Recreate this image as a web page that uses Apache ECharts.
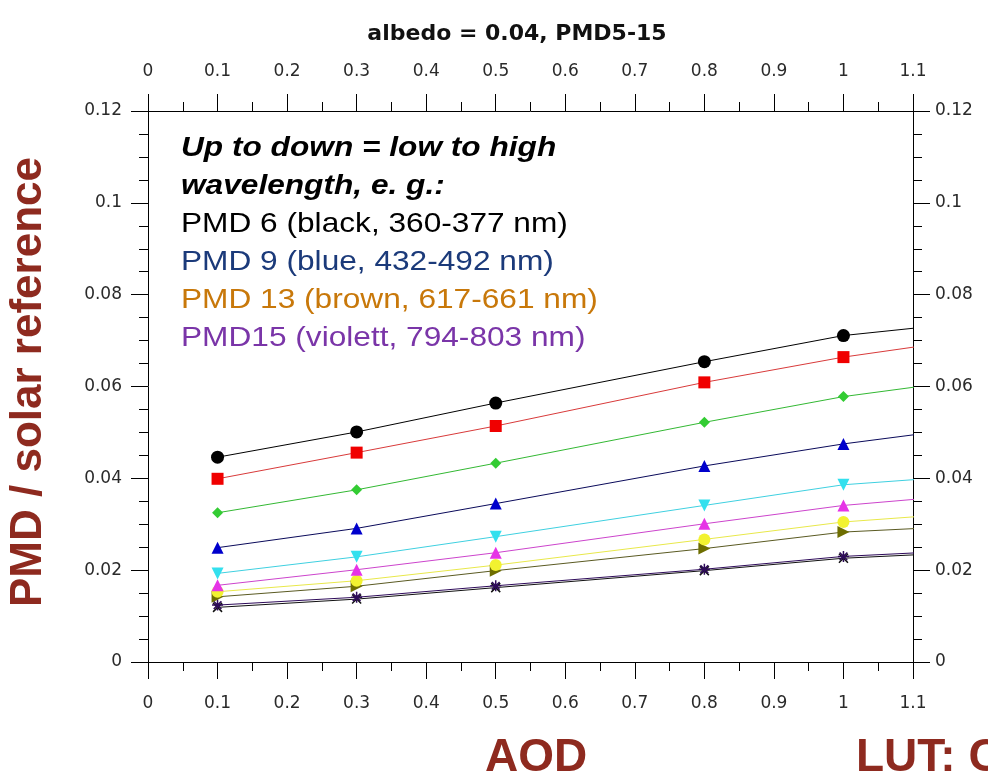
<!DOCTYPE html>
<html>
<head>
<meta charset="utf-8">
<script src="https://cdn.jsdelivr.net/npm/echarts@6/dist/echarts.min.js"></script>
<style>
  html, body { margin: 0; padding: 0; background: #fff; }
  #chart { width: 988px; height: 780px; }
</style>
</head>
<body>
<div id="chart"></div>
<script>
// AOD grid of the lookup table (last node lies beyond the visible axis range)
const aod = [0.1, 0.3, 0.5, 0.8, 1.0, 1.5];

// PMD / solar reference for each PMD channel, albedo = 0.04
const pmdBlack   = [0.0446, 0.0501, 0.0564, 0.0654, 0.0711, 0.0790];
const pmdRed     = [0.0399, 0.0456, 0.0514, 0.0609, 0.0664, 0.0772];
const pmdGreen   = [0.0325, 0.0375, 0.0433, 0.0522, 0.0578, 0.0679];
const pmdBlue    = [0.0249, 0.0291, 0.0345, 0.0427, 0.0475, 0.0573];
const pmdCyan    = [0.0193, 0.0229, 0.0273, 0.0341, 0.0386, 0.0441];
const pmdMagenta = [0.0167, 0.0201, 0.0238, 0.0301, 0.0341, 0.0406];
const pmdYellow  = [0.0153, 0.0177, 0.0211, 0.0267, 0.0305, 0.0360];
const pmdOlive   = [0.0142, 0.0165, 0.0199, 0.0247, 0.0283, 0.0320];
const pmdViolet  = [0.0124, 0.0141, 0.0166, 0.0202, 0.0230, 0.0267];
const pmdDark    = [0.0119, 0.0137, 0.0162, 0.0199, 0.0226, 0.0262];

// Axis ranges and ticks
const xMin = 0, xMax = 1.1, xStep = 0.1;
const yMin = 0, yMax = 0.12, yStep = 0.02;

// Text blocks
const titleText = 'albedo = 0.04, PMD5-15';
const noteLines = [
  { text: 'Up to down = low to high', color: '#000000', bold: true },
  { text: 'wavelength, e. g.:', color: '#000000', bold: true },
  { text: 'PMD 6 (black, 360-377 nm)', color: '#000000', bold: false },
  { text: 'PMD 9 (blue, 432-492 nm)', color: '#1B3A7A', bold: false },
  { text: 'PMD 13 (brown, 617-661 nm)', color: '#C8780A', bold: false },
  { text: 'PMD15 (violett, 794-803 nm)', color: '#7A35A8', bold: false }
];
const yTitle = 'PMD / solar reference';
const xTitle = 'AOD';
const lutText = 'LUT: C';

const asterisk = 'path://M0,5L10,5M5,0L5,10M1.5,1.5L8.5,8.5M8.5,1.5L1.5,8.5';
const cross = 'path://M0,0L10,10M10,0L0,10';

function pairs(vals) { return aod.map((x, i) => [x, vals[i]]); }

function lineSeries(name, vals, lineColor, symbol, fill, size, rotate, stroke) {
  return {
    name: name,
    type: 'line',
    data: pairs(vals),
    clip: true,
    symbol: symbol,
    symbolSize: size,
    symbolRotate: rotate || 0,
    showAllSymbol: true,
    lineStyle: { color: lineColor, width: 1 },
    itemStyle: stroke
      ? { color: 'none', borderColor: fill, borderWidth: 1.5 }
      : { color: fill, borderWidth: 0 },
    emphasis: { disabled: true },
    z: 3
  };
}

const series = [
  lineSeries('PMD 5',  pmdDark,    '#111111', cross,      '#111111', 9, 0, true),
  lineSeries('PMD 15', pmdViolet,  '#2E0B5A', asterisk,   '#2E0B5A', 11, 0, true),
  lineSeries('PMD 14', pmdOlive,   '#5A5A22', 'triangle', '#6E6E00', 12, -90),
  lineSeries('PMD 13', pmdYellow,  '#E8E84A', 'circle',   '#F2F230', 12),
  lineSeries('PMD 12', pmdMagenta, '#CC44CC', 'triangle', '#E633E6', 12),
  lineSeries('PMD 11', pmdCyan,    '#3FD0E0', 'triangle', '#33E0EE', 12, 180),
  lineSeries('PMD 9',  pmdBlue,    '#0A0A5A', 'triangle', '#0000CC', 12),
  lineSeries('PMD 8',  pmdGreen,   '#33B833', 'diamond',  '#33CC33', 11),
  lineSeries('PMD 7',  pmdRed,     '#D83A3A', 'rect',     '#F00000', 12),
  lineSeries('PMD 6',  pmdBlack,   '#000000', 'circle',   '#000000', 13)
];

const tickFont = { color: '#2a2a2a', fontFamily: 'DejaVu Sans', fontSize: 17 };

function xAxisCfg(pos, margin) {
  return {
    type: 'value', position: pos, min: xMin, max: xMax, interval: xStep,
    axisLine: { show: true, onZero: false, lineStyle: { color: '#000', width: 1 } },
    axisTick: { show: true, inside: false, length: 17, lineStyle: { color: '#000', width: 1 } },
    minorTick: { show: true, splitNumber: 2, length: 9, lineStyle: { color: '#000', width: 1 } },
    axisLabel: Object.assign({ margin: margin, showMinLabel: true, showMaxLabel: true }, tickFont),
    splitLine: { show: false }, minorSplitLine: { show: false }
  };
}
function yAxisCfg(pos, margin) {
  return {
    type: 'value', position: pos, min: yMin, max: yMax, interval: yStep,
    axisLine: { show: true, onZero: false, lineStyle: { color: '#000', width: 1 } },
    axisTick: { show: true, inside: false, length: 17, lineStyle: { color: '#000', width: 1 } },
    minorTick: { show: true, splitNumber: 4, length: 9, lineStyle: { color: '#000', width: 1 } },
    axisLabel: Object.assign({ margin: margin, showMinLabel: true, showMaxLabel: true }, tickFont),
    splitLine: { show: false }, minorSplitLine: { show: false }
  };
}

const noteTop = 148, noteGap = 38;
const graphics = [
  {
    type: 'text', x: 517, y: 34,
    style: { text: titleText, font: 'bold 22px "DejaVu Sans"', fill: '#111', textAlign: 'center', textVerticalAlign: 'middle' }
  },
  {
    type: 'text', x: 29, y: 382, rotation: Math.PI / 2,
    style: { text: yTitle, font: 'bold 44px "Liberation Sans"', fill: '#8E2A1F', textAlign: 'center', textVerticalAlign: 'middle' }
  },
  {
    type: 'text', x: 485, y: 758,
    style: { text: xTitle, font: 'bold 46px "Liberation Sans"', fill: '#8E2A1F', textAlign: 'left', textVerticalAlign: 'middle' }
  },
  {
    type: 'text', x: 856, y: 758,
    style: { text: lutText, font: 'bold 46px "Liberation Sans"', fill: '#8E2A1F', textAlign: 'left', textVerticalAlign: 'middle' }
  }
].concat(noteLines.map((ln, i) => ({
  type: 'text', x: 181, y: noteTop + i * noteGap, scaleX: 1.13, z: 10,
  style: {
    text: ln.text,
    font: (ln.bold ? 'italic bold ' : '') + '28px "Liberation Sans"',
    fill: ln.color, textAlign: 'left', textVerticalAlign: 'middle'
  }
})));

const chart = echarts.init(document.getElementById('chart'), null, { renderer: 'canvas' });
chart.setOption({
  backgroundColor: '#ffffff',
  animation: false,
  grid: { left: 148, right: 75, top: 111, bottom: 118, containLabel: false },
  xAxis: [xAxisCfg('bottom', 33), xAxisCfg('top', 31)],
  yAxis: [yAxisCfg('left', 26), yAxisCfg('right', 22)],
  series: series,
  graphic: graphics
});
</script>
</body>
</html>
